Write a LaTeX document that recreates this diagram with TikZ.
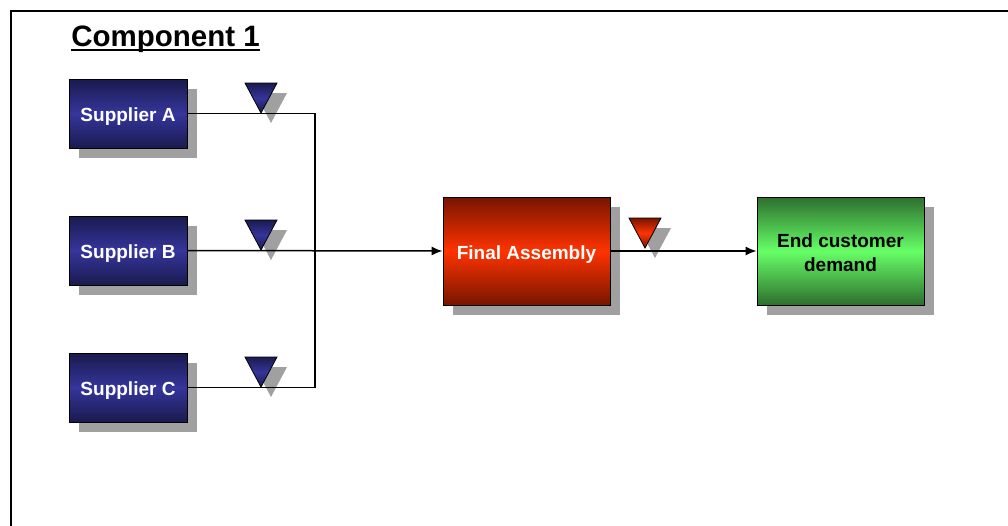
\documentclass[tikz,border=0pt]{standalone}
\usepackage{fontspec}
\setmainfont{Liberation Sans}
\usetikzlibrary{arrows.meta,shadows}
\definecolor{shadowgray}{HTML}{A0A0A0}
\definecolor{navyD}{HTML}{1A1A4E}
\definecolor{navyM}{HTML}{35359C}
\definecolor{redD}{HTML}{761500}
\definecolor{redM}{HTML}{FF3300}
\definecolor{greenD}{HTML}{2E6E2E}
\definecolor{greenM}{HTML}{66FF66}
\begin{document}
\begin{tikzpicture}[x=1pt,y=-1pt,
  box/.style={draw=black, line width=0.8pt, inner sep=0pt, align=center,
    font=\fontsize{19}{24}\selectfont\bfseries,
    drop shadow={shadow xshift=10pt, shadow yshift=-10pt, fill=shadowgray, opacity=1}},
  oneline/.style={text height=16pt, text depth=0pt},
  twoline/.style={text height=41pt, text depth=0pt},
  smallbox/.style={box, oneline, minimum width=118pt, minimum height=69pt},
  bigbox/.style={box, minimum width=167pt, minimum height=108pt},
  bluefill/.style={top color=navyD, bottom color=navyD, middle color=navyM},
  redfill/.style={top color=redD, bottom color=redD, middle color=redM},
  greenfill/.style={top color=greenD, bottom color=greenD, middle color=greenM},
  supplier/.style={smallbox, bluefill, text=white},
  conn/.style={draw=black, line width=1.5pt},
  arr/.style={conn, -{Latex[length=11pt,width=9pt]}},
  pics/invtri/.style={code={
    \fill[shadowgray] (-6,-20) -- (26,-20) -- (10,10) -- cycle;
    \shade[draw=black, line width=0.8pt, #1] (-16,-30) -- (16,-30) -- (0,0) -- cycle;
  }}
]
\useasboundingbox (0,0) rectangle (1008,525);
\fill[white] (0,0) rectangle (1008,525);
% frame
\draw[line width=1.5pt] (11,530) -- (11,11) -- (1015,11);

% title
\node[font=\fontsize{29.5}{34}\selectfont\bfseries, inner sep=0pt, anchor=base] (title) at (165.5,46) {Component 1};
\draw[line width=2pt] ([yshift=-3.5pt]title.base west) -- ([yshift=-3.5pt]title.base east);

% boxes
\node[supplier] (sa) at (128,113.5) {Supplier A};
\node[supplier] (sb) at (128,250.5) {Supplier B};
\node[supplier] (sc) at (128,387.5) {Supplier C};
\node[bigbox, oneline, redfill, text=white] (fa) at (526.5,251) {Final Assembly};
\node[bigbox, twoline, greenfill, text=black] (ec) at (840.5,251) {End customer\\demand};

% inventory triangles
\pic at (261,113) {invtri=bluefill};
\pic at (261,250) {invtri=bluefill};
\pic at (261,387) {invtri=bluefill};
\pic at (645,248) {invtri=redfill};

% connectors
\coordinate (bus) at (315,250);
\draw[conn] (sa.east) -| (bus) |- (sc.east);
\draw[arr] (sb.east) -- (fa.west);
\draw[arr] (fa.east) -- (ec.west);
\end{tikzpicture}
\end{document}
